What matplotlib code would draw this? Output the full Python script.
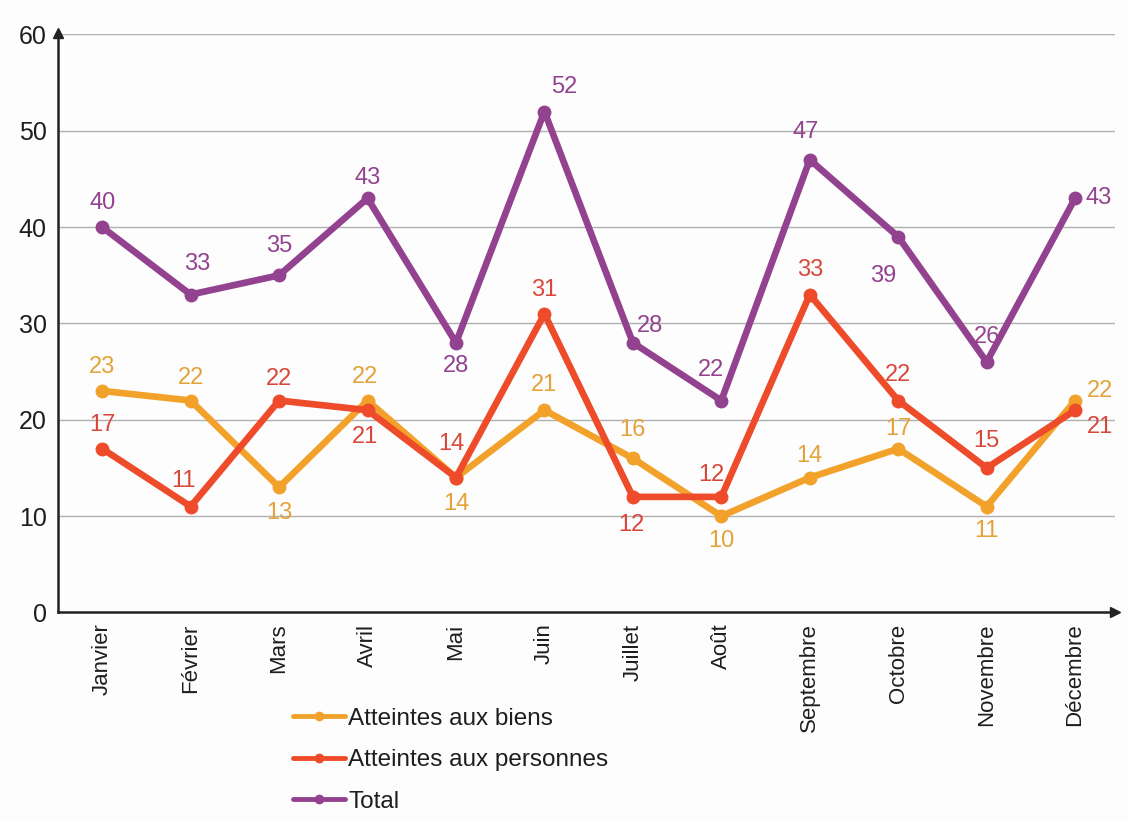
import matplotlib
matplotlib.use("Agg")
import matplotlib.pyplot as plt

plt.rcParams['font.family'] = ['Liberation Sans Narrow', 'Liberation Sans', 'DejaVu Sans']

months = ['Janvier', 'Février', 'Mars', 'Avril', 'Mai', 'Juin', 'Juillet',
          'Août', 'Septembre', 'Octobre', 'Novembre', 'Décembre']
biens = [23, 22, 13, 22, 14, 21, 16, 10, 14, 17, 11, 22]
personnes = [17, 11, 22, 21, 14, 31, 12, 12, 33, 22, 15, 21]
total = [40, 33, 35, 43, 28, 52, 28, 22, 47, 39, 26, 43]

# label offsets in pixels (dx, dy) for each point
off_biens = [(0, 24), (0, 23), (0, -26), (-3, 24), (0, -26), (0, 25),
             (0, 28), (0, -25), (0, 22), (0, 20), (0, -24), (25, 10)]
off_pers = [(0, 24), (-7, 26), (0, 22), (-3, -27), (-5, 34), (0, 24),
            (-2, -28), (-10, 22), (0, 25), (0, 26), (0, 27), (25, -17)]
off_total = [(0, 24), (7, 31), (0, 29), (0, 20), (0, -23), (20, 25),
             (17, 17), (-10, 31), (-4, 28), (-15, -39), (0, 25), (24, 0)]

c_biens = '#F2A22A'
c_pers = '#EE4B2B'
c_total = '#93428F'
t_biens = '#E3A23A'
t_pers = '#D9473A'
t_total = '#93428F'

fig = plt.figure(figsize=(11.28, 8.21), dpi=100)
fig.patch.set_facecolor('#fdfdfd')
ax = fig.add_axes([0.0514, 0.254, 0.937, 0.704])
ax.set_facecolor('#fdfdfd')

x = list(range(len(months)))

series = [
    (biens, c_biens, t_biens, off_biens, 'Atteintes aux biens'),
    (personnes, c_pers, t_pers, off_pers, 'Atteintes aux personnes'),
    (total, c_total, t_total, off_total, 'Total'),
]
handles = []
for vals, col, tcol, offs, name in series:
    h, = ax.plot(x, vals, color=col, lw=4.8, marker='o', ms=9,
                 solid_joinstyle='round', solid_capstyle='round', label=name, zorder=3)
    handles.append(h)
    for xi, v, (dx, dy) in zip(x, vals, offs):
        ax.annotate(str(v), (xi, v), xytext=(dx, dy), textcoords='offset pixels',
                    ha='center', va='center', fontsize=17, color=tcol, zorder=4)

ax.set_xlim(-0.5, 11.45)
ax.set_ylim(0, 60)
ax.set_yticks(range(0, 61, 10))
ax.set_xticks(x)
ax.set_xticklabels(months, rotation=90, fontsize=16, color='#1e1e1e')
ax.tick_params(axis='both', length=0, colors='#1e1e1e')
ax.tick_params(axis='y', labelsize=18, pad=8)
ax.tick_params(axis='x', pad=8)
for v in range(10, 61, 10):
    ax.axhline(v, color='#b0b0b0', lw=1.0, zorder=1)

for s in ['top', 'right']:
    ax.spines[s].set_visible(False)
for s in ['left', 'bottom']:
    ax.spines[s].set_color('#222222')
    ax.spines[s].set_linewidth(1.8)

# axis arrows
ax.plot(1, 0, '>', color='#222222', ms=7, transform=ax.transAxes, clip_on=False)
ax.plot(0, 1.003, '^', color='#222222', ms=7, transform=ax.transAxes, clip_on=False)

leg = fig.legend(handles=handles, loc='upper left', bbox_to_anchor=(0.251, 0.15),
                 frameon=False, fontsize=17.5, handlelength=2.15, handletextpad=0.12,
                 labelspacing=0.8, borderaxespad=0)
for t in leg.get_texts():
    t.set_color('#1e1e1e')
for lh in leg.get_lines():
    lh.set_linewidth(3.5)
    lh.set_markersize(6)

fig.savefig('out.png', dpi=100, facecolor=fig.get_facecolor())
